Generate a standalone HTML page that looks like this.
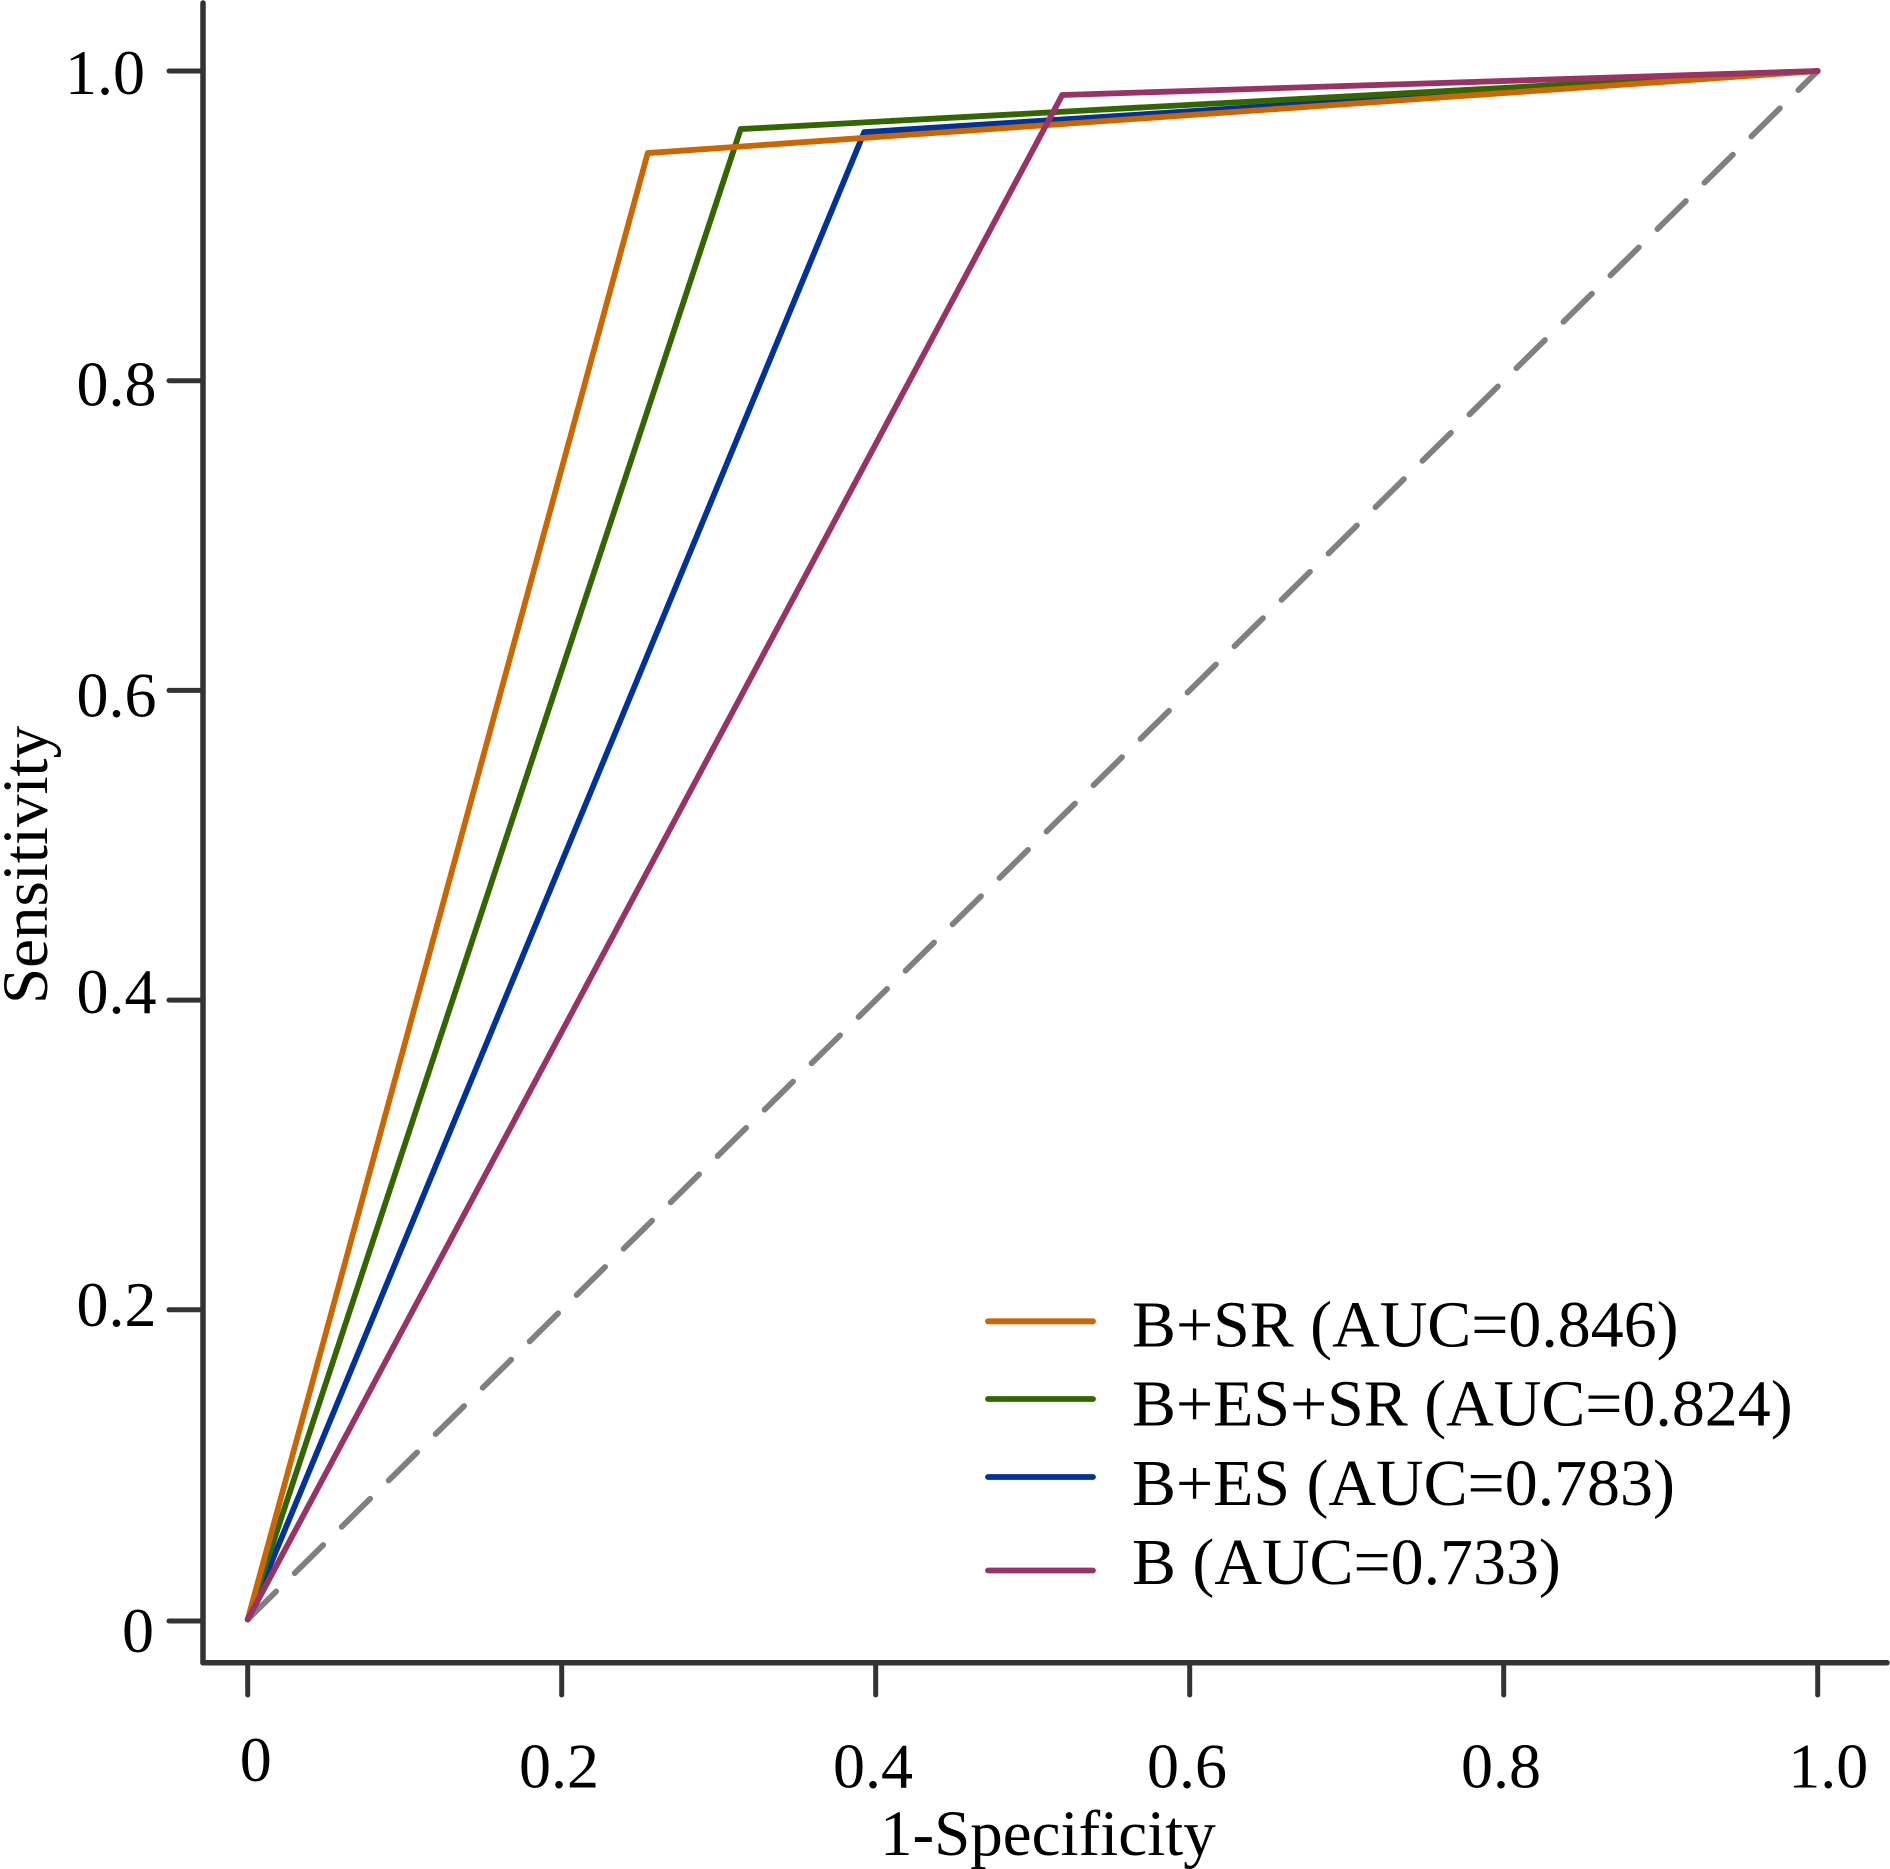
<!DOCTYPE html>
<html>
<head>
<meta charset="utf-8">
<title>ROC curves</title>
<style>
html,body{margin:0;padding:0;background:#fff;}
svg{display:block;}
text{font-family:"Liberation Serif",serif;font-size:65px;fill:#000;}
text.legend-text{font-size:65.9px;}
text.tick-text{font-size:64px;}
</style>
</head>
<body>
<svg id="chart" width="1890" height="1869" viewBox="0 0 1890 1869" xmlns="http://www.w3.org/2000/svg">
  <rect x="0" y="0" width="1890" height="1869" fill="#fff"/>
  <g id="marks"></g>
  <g id="ticks"></g>
  <line x1="203" y1="3" x2="203" y2="1662.7" stroke="#333" stroke-width="5.5" stroke-linecap="round"/>
  <line x1="203" y1="1662.7" x2="1887" y2="1662.7" stroke="#333" stroke-width="5.5" stroke-linecap="round"/>
  <text x="880" y="1855">1-Specificity</text>
  <text transform="translate(47,1004) rotate(-90)">Sensitivity</text>
  <g>
    <line x1="988" y1="1321.3" x2="1093" y2="1321.3" stroke="#CC6600" stroke-width="5.8" stroke-linecap="round"/>
    <text class="legend-text" x="1132" y="1346.7">B+SR (AUC=0.846)</text>
    <line x1="988" y1="1399" x2="1093" y2="1399" stroke="#336600" stroke-width="5.8" stroke-linecap="round"/>
    <text class="legend-text" x="1132" y="1425.7">B+ES+SR (AUC=0.824)</text>
    <line x1="988" y1="1477" x2="1093" y2="1477" stroke="#003399" stroke-width="5.8" stroke-linecap="round"/>
    <text class="legend-text" x="1132" y="1505">B+ES (AUC=0.783)</text>
    <line x1="988" y1="1570.5" x2="1093" y2="1570.5" stroke="#993366" stroke-width="5.8" stroke-linecap="round"/>
    <text class="legend-text" x="1132" y="1584">B (AUC=0.733)</text>
  </g>
</svg>
<script>
var xTickValues = [0, 0.2, 0.4, 0.6, 0.8, 1.0];
var yTickValues = [0, 0.2, 0.4, 0.6, 0.8, 1.0];
var xTickLabels = ["0", "0.2", "0.4", "0.6", "0.8", "1.0"];
var yTickLabels = ["0", "0.2", "0.4", "0.6", "0.8", "1.0"];

var diagonalX = [0, 1];
var diagonalY = [0, 1];
var bSrX = [0, 0.2548, 1];
var bSrY = [0, 0.947, 1];
var bEsSrX = [0, 0.314, 1];
var bEsSrY = [0, 0.9625, 1];
var bEsX = [0, 0.3927, 1];
var bEsY = [0, 0.9605, 1];
var bX = [0, 0.5188, 1];
var bY = [0, 0.9845, 1];

var NS = "http://www.w3.org/2000/svg";
function xScale(v) { return 247.7 + v * 1570; }
function yScale(v) { return 1619.5 - v * 1548.5; }
function yTickScale(v) { return yScale(v) + (v === 0 ? 1.5 : 0); }

function pathFrom(xs, ys) {
  var d = "";
  for (var i = 0; i < xs.length; i++) {
    d += (i ? "L" : "M") + xScale(xs[i]).toFixed(2) + " " + yScale(ys[i]).toFixed(2);
  }
  return d;
}

function drawLine(name, xs, ys, color, dash) {
  var p = document.createElementNS(NS, "path");
  p.setAttribute("d", pathFrom(xs, ys));
  p.setAttribute("fill", "none");
  p.setAttribute("stroke", color);
  p.setAttribute("stroke-width", "5.8");
  p.setAttribute("stroke-linejoin", "round");
  p.setAttribute("stroke-linecap", "round");
  if (dash) p.setAttribute("stroke-dasharray", dash);
  
  
  document.getElementById("marks").appendChild(p);
}

drawLine("reference-diagonal", diagonalX, diagonalY, "#808080", "40 26");
drawLine("series-b-es", bEsX, bEsY, "#003399");
drawLine("series-b-es-sr", bEsSrX, bEsSrY, "#336600");
drawLine("series-b-sr", bSrX, bSrY, "#CC6600");
drawLine("series-b", bX, bY, "#993366");

function xLabelShift(label) {
  if (label === "0") return -8;
  if (label === "1.0") return -29.5;
  return -42.7;
}
function yLabelLeft(label) {
  if (label === "0") return 122;
  if (label === "1.0") return 65;
  return 76.5;
}
function yLabelDrop(label) {
  if (label === "0") return 31;
  if (label === "0.2") return 16;
  if (label === "0.4") return 13;
  if (label === "0.6") return 26;
  if (label === "0.8") return 25;
  return 23;
}

var tickGroup = document.getElementById("ticks");

function drawTick(x1, y1, x2, y2, name) {
  var l = document.createElementNS(NS, "line");
  l.setAttribute("x1", x1);
  l.setAttribute("y1", y1);
  l.setAttribute("x2", x2);
  l.setAttribute("y2", y2);
  l.setAttribute("stroke", "#333");
  l.setAttribute("stroke-width", "5");
  l.setAttribute("stroke-linecap", "round");
  
  
  tickGroup.appendChild(l);
}

function drawLabel(x, y, str, name) {
  var t = document.createElementNS(NS, "text");
  t.setAttribute("x", x);
  t.setAttribute("y", y);
  t.setAttribute("class", "tick-text");
  t.textContent = str;
  
  
  tickGroup.appendChild(t);
}

xTickValues.forEach(function (v, i) {
  var x = xScale(v);
  drawTick(x, 1663, x, 1695, "x-tick");
  drawLabel(x + xLabelShift(xTickLabels[i]), xTickLabels[i] === "0" ? 1781 : 1787.5, xTickLabels[i], "x-tick-label");
});

yTickValues.forEach(function (v, i) {
  var y = yTickScale(v);
  drawTick(203, y, 169, y, "y-tick");
  drawLabel(yLabelLeft(yTickLabels[i]), y + yLabelDrop(yTickLabels[i]), yTickLabels[i], "y-tick-label");
});
</script>
</body>
</html>
